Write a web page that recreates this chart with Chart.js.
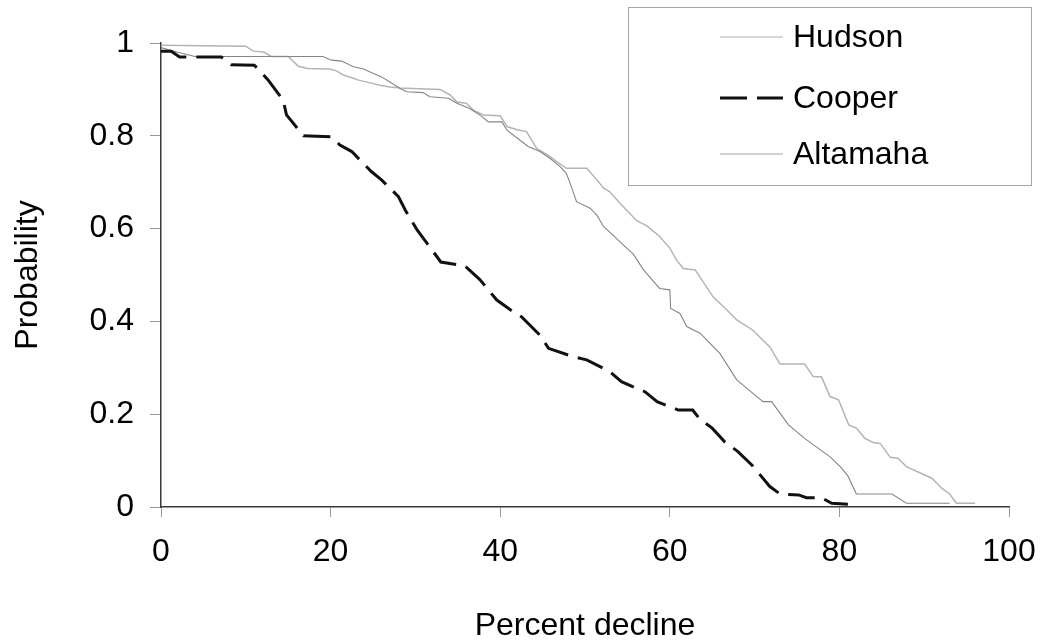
<!DOCTYPE html>
<html><head><meta charset="utf-8">
<script src="https://cdn.jsdelivr.net/npm/chart.js@4/dist/chart.umd.min.js"></script>
<style>html,body{margin:0;padding:0;background:#fff;overflow:hidden}#wrap{width:1043px;height:641px}</style>
</head><body><div id="wrap"><canvas id="c" width="1043" height="641"></canvas></div>
<script>
const seriesNames = ['Hudson', 'Cooper', 'Altamaha'];

const hudsonX = [0, 10, 10.8, 12.2, 13, 15, 16.2, 17.3, 19.9, 20.7, 21.5, 22.5, 23.3, 24.9, 25.8, 27, 28.2, 32.9, 34.1, 34.9, 36, 36.8, 38, 40, 40.8, 42, 43.1, 44.3, 45.9, 46.7, 47.8, 50.2, 51.4, 52.2, 52.9, 54.1, 56.1, 57.3, 58.8, 60, 60.8, 61.6, 63, 65.1, 66.7, 67.9, 69.8, 71.8, 73, 75.9, 76.9, 77.9, 78.9, 79.9, 81.1, 82, 83, 84, 84.8, 86, 86.9, 87.9, 90.9, 92.1, 93, 93.8, 96];
const hudsonY = [0.995, 0.993, 0.983, 0.98, 0.971, 0.971, 0.95, 0.945, 0.944, 0.94, 0.931, 0.925, 0.92, 0.913, 0.909, 0.905, 0.903, 0.90, 0.888, 0.873, 0.87, 0.856, 0.845, 0.843, 0.82, 0.813, 0.809, 0.773, 0.755, 0.744, 0.73, 0.73, 0.705, 0.687, 0.68, 0.655, 0.617, 0.606, 0.583, 0.558, 0.532, 0.514, 0.511, 0.453, 0.425, 0.403, 0.381, 0.345, 0.308, 0.308, 0.281, 0.28, 0.238, 0.231, 0.177, 0.17, 0.148, 0.139, 0.137, 0.107, 0.105, 0.087, 0.062, 0.04, 0.028, 0.008, 0.008];

const cooperX = [0, 1.2, 2.2, 7.1, 8.3, 11, 11.4, 12.6, 14.4, 14.8, 16.8, 20.1, 21.1, 22.5, 24.8, 26, 28, 28.8, 30.2, 31.5, 33, 35.8, 37.6, 39.6, 41.2, 42.5, 44.7, 45.7, 48.6, 50.2, 52.9, 54.3, 57.1, 58.5, 61, 62.7, 63.5, 65, 66.5, 68, 69.7, 71.8, 73, 75.2, 76.1, 77.9, 79.1, 81];
const cooperY = [0.982, 0.982, 0.97, 0.97, 0.953, 0.952, 0.945, 0.921, 0.877, 0.845, 0.80, 0.798, 0.78, 0.766, 0.723, 0.705, 0.669, 0.64, 0.597, 0.565, 0.528, 0.52, 0.49, 0.446, 0.425, 0.41, 0.37, 0.342, 0.324, 0.317, 0.292, 0.27, 0.248, 0.227, 0.209, 0.209, 0.19, 0.17, 0.14, 0.12, 0.09, 0.044, 0.028, 0.026, 0.02, 0.02, 0.008, 0.006];

const altamahaX = [0, 2, 4, 19.1, 20.1, 21.3, 22.7, 23.9, 24.6, 26, 27, 28.2, 29, 30.9, 31.7, 33.9, 34.9, 36.4, 37.6, 38.6, 40.2, 40.8, 42.3, 43.3, 44.7, 45.9, 47.1, 47.8, 48.4, 49, 50.6, 51.4, 52.2, 53.3, 54.5, 55.7, 56.9, 58.8, 60, 60.1, 61.2, 62, 63.6, 65.9, 67.9, 69.8, 71, 72, 74, 75.9, 78.9, 80.1, 81, 82, 86.2, 87.9, 93];
const altamahaY = [0.99, 0.98, 0.971, 0.971, 0.963, 0.961, 0.949, 0.944, 0.938, 0.927, 0.916, 0.902, 0.895, 0.893, 0.884, 0.881, 0.87, 0.859, 0.845, 0.83, 0.83, 0.812, 0.791, 0.777, 0.766, 0.751, 0.733, 0.719, 0.69, 0.658, 0.644, 0.629, 0.604, 0.586, 0.565, 0.545, 0.511, 0.471, 0.468, 0.428, 0.417, 0.389, 0.374, 0.331, 0.274, 0.245, 0.227, 0.227, 0.177, 0.148, 0.108, 0.087, 0.067, 0.028, 0.028, 0.008, 0.008];

const xTickValues = [0, 20, 40, 60, 80, 100];
const xTickLabels = ['0', '20', '40', '60', '80', '100'];
const yTickValues = [0, 0.2, 0.4, 0.6, 0.8, 1];
const yTickLabels = ['0', '0.2', '0.4', '0.6', '0.8', '1'];
const xTitle = 'Percent decline';
const yTitle = 'Probability';

const FONT = "'Liberation Sans', Arial, Helvetica, sans-serif";
const FS = 32;
const toPts = (xs, ys) => xs.map((x, i) => ({x: x, y: ys[i]}));

const boxLegend = {
  id: 'boxLegend',
  afterDraw(chart) {
    const ctx = chart.ctx;
    ctx.save();
    ctx.strokeStyle = '#a6a6a6';
    ctx.lineWidth = 1;
    ctx.strokeRect(628.5, 7.5, 403, 178);
    const rows = [37, 98, 154];
    chart.data.datasets.forEach((ds, i) => {
      const y = rows[i];
      ctx.beginPath();
      ctx.strokeStyle = ds.legendColor || ds.borderColor;
      ctx.lineWidth = ds.legendWidth || ds.borderWidth;
      ctx.setLineDash(ds.borderDash || []);
      ctx.moveTo(720, y);
      ctx.lineTo(783, y);
      ctx.stroke();
      ctx.setLineDash([]);
      ctx.fillStyle = '#000';
      ctx.font = FS + 'px ' + FONT;
      ctx.textAlign = 'left';
      ctx.textBaseline = 'middle';
      ctx.fillText(ds.label, 793, y + 1);
    });
    ctx.restore();
  }
};

new Chart(document.getElementById('c'), {
  type: 'scatter',
  data: {
    datasets: [
      {label: seriesNames[0], data: toPts(hudsonX, hudsonY), showLine: true, borderColor: '#b4b4b4', legendColor: '#c8c8c8', borderWidth: 1.5, pointRadius: 0, tension: 0, order: 3},
      {label: seriesNames[1], data: toPts(cooperX, cooperY), showLine: true, borderColor: '#111111', borderWidth: 3, borderDash: [27, 10], pointRadius: 0, tension: 0, order: 1},
      {label: seriesNames[2], data: toPts(altamahaX, altamahaY), showLine: true, borderColor: '#858585', legendColor: '#a8a8a8', borderWidth: 1.1, pointRadius: 0, tension: 0, order: 2}
    ]
  },
  options: {
    responsive: false,
    animation: false,
    devicePixelRatio: 1,
    layout: {padding: {top: 43, right: 34, bottom: 0, left: 0}},
    plugins: {legend: {display: false}, tooltip: {enabled: false}},
    scales: {
      x: {
        type: 'linear', min: 0, max: 100,
        afterFit: s => { s.height = 134; s.paddingRight = 0; s.paddingLeft = 0; },
        afterBuildTicks: s => { s.ticks = xTickValues.map(v => ({value: v})); },
        ticks: {color: '#000', font: {family: FONT, size: FS}, padding: 16, maxRotation: 0,
          callback: (v, i) => xTickLabels[i]},
        grid: {drawOnChartArea: false, drawTicks: true, tickLength: 10, color: '#9a9a9a', lineWidth: 1},
        border: {color: '#3a3a3a', width: 1.5},
        title: {display: true, text: xTitle, color: '#000', font: {family: FONT, size: FS}, padding: {top: 0, bottom: -4}}
      },
      y: {
        type: 'linear', min: 0, max: 1,
        afterFit: s => { s.width = 161; s.paddingTop = 0; s.paddingBottom = 0; },
        afterBuildTicks: s => { s.ticks = yTickValues.map(v => ({value: v})); },
        ticks: {color: '#000', font: {family: FONT, size: FS}, padding: 16,
          callback: (v, i) => yTickLabels[i]},
        grid: {drawOnChartArea: false, drawTicks: true, tickLength: 11, color: '#9a9a9a', lineWidth: 1},
        border: {color: '#3a3a3a', width: 1.5},
        title: {display: true, text: yTitle, color: '#000', font: {family: FONT, size: FS}, padding: {top: 9, bottom: 0}}
      }
    }
  },
  plugins: [boxLegend]
});
</script>
</body></html>
